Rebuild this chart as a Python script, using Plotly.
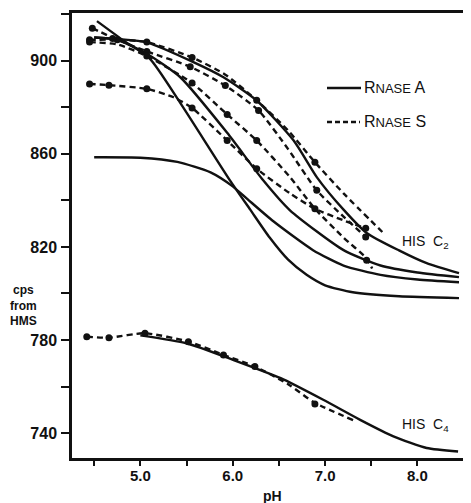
import plotly.graph_objects as go

# ---------------- data ----------------
# RNase A (solid) curves, HIS C2
a1_ph = [4.53, 4.82, 5.1, 5.43, 5.97, 6.19, 6.4, 6.6, 6.8, 7.0, 7.3, 7.8, 8.45]
a1_v  = [917, 908.6, 901, 882, 848.6, 836, 824, 814.5, 808, 803.5, 800.5, 798.8, 798]
a2_ph = [4.5, 5.0, 5.4, 5.76, 6.0, 6.16, 6.44, 6.87, 7.2, 7.6, 8.0, 8.45]
a2_v  = [858.5, 858.3, 856.5, 852, 846, 840.5, 831, 818.6, 812, 808, 806, 804.8]
a3_ph = [4.5, 4.75, 5.07, 5.43, 5.94, 6.33, 6.62, 7.2, 7.6, 8.0, 8.45]
a3_v  = [910, 909, 903, 893, 869, 848.6, 835.7, 818.6, 812, 809, 807]
a4_ph = [4.5, 4.75, 5.07, 5.58, 5.9, 6.26, 6.66, 6.91, 7.2, 7.45, 7.8, 8.1, 8.45]
a4_v  = [910, 909.3, 907.9, 899.3, 892.9, 882.9, 865.7, 850, 836, 826, 818.5, 813, 808.7]

# RNase S (dashed) curves, HIS C2
s1_ph = [4.45, 4.75, 5.07, 5.56, 5.92, 6.26, 6.6, 6.89, 7.2, 7.62]
s1_v  = [909, 909, 908, 901.4, 894, 883, 870, 856.4, 843, 826.4]
s1_dot_ph = [4.45, 4.75, 5.07, 5.56, 6.26, 6.89]
s1_dot_v  = [909, 909, 908, 901.4, 883, 856.4]
s2_ph = [4.48, 4.75, 5.07, 5.54, 5.92, 6.28, 6.6, 6.91, 7.2, 7.44]
s2_v  = [914, 909, 904, 897.4, 889.3, 878.6, 862, 844.3, 833, 824.3]
s2_dot_ph = [4.48, 4.7, 5.07, 5.54, 5.92, 6.28, 6.91, 7.44]
s2_dot_v  = [914, 909.5, 904, 897.4, 889.3, 878.6, 844.3, 824.3]
s3_ph = [4.45, 4.75, 5.07, 5.56, 5.94, 6.26, 6.62, 6.89, 7.2, 7.45, 7.51]
s3_v  = [908, 907, 902, 890.4, 876.9, 865.7, 850, 836.4, 824, 815, 810.7]
s3_dot_ph = [4.45, 5.07, 5.56, 5.94, 6.26, 7.45]
s3_dot_v  = [908, 902, 890.4, 876.9, 865.7, 814.3]
s4_ph = [4.45, 4.66, 5.07, 5.36, 5.56, 5.94, 6.26, 6.62, 6.89, 7.2, 7.44]
s4_v  = [890, 889.5, 887.9, 884.3, 879.7, 865.7, 853.6, 843, 836.4, 831.4, 828]
s4_dot_ph = [4.45, 4.66, 5.07, 5.56, 5.94, 6.26, 6.89, 7.44]
s4_dot_v  = [890, 889.5, 887.9, 879.7, 865.7, 853.6, 836.4, 828]

# HIS C4
c4a_ph = [5.0, 5.5, 6.01, 6.52, 6.98, 7.38, 7.74, 8.1, 8.44]
c4a_v  = [782, 778.6, 771.4, 763.6, 754.3, 745.7, 738.6, 733.6, 732.1]
c4s_ph = [4.42, 4.66, 5.05, 5.52, 5.9, 6.24, 6.6, 6.89, 7.31]
c4s_v  = [781.4, 781.0, 782.9, 779.3, 773.6, 768.6, 761, 753, 745.5]
c4s_dot_ph = [4.42, 4.66, 5.05, 5.52, 5.9, 6.24, 6.89]
c4s_dot_v  = [781.4, 781.0, 782.9, 779.3, 773.6, 768.6, 752.5]

x_ticks = [5.0, 6.0, 7.0, 8.0]
x_ticktext = ["5.0", "6.0", "7.0", "8.0"]
y_ticks = [740, 780, 820, 860, 900]
y_ticktext = ["740", "780", "820", "860", "900"]

# ---------------- figure ----------------
# the page puts the figure 8px in from the top-left corner
OFF = 8
W, H = 463, 495
ML, MR, MT, MB = 64, 0, 5, 45
INK = "#111111"
LW = 2.4

fig = go.Figure()

def solid(xs, ys):
    fig.add_trace(go.Scatter(x=xs, y=ys, mode="lines",
                             line=dict(color=INK, width=LW, shape="spline", smoothing=0.6),
                             hoverinfo="skip", showlegend=False))

def dashed(xs, ys, dx, dy):
    fig.add_trace(go.Scatter(x=xs, y=ys, mode="lines",
                             line=dict(color=INK, width=LW, shape="spline", smoothing=0.6,
                                       dash="6px,4px"),
                             hoverinfo="skip", showlegend=False))
    fig.add_trace(go.Scatter(x=dx, y=dy, mode="markers",
                             marker=dict(color=INK, size=7),
                             hoverinfo="skip", showlegend=False))

for xs, ys in [(a1_ph, a1_v), (a2_ph, a2_v), (a3_ph, a3_v), (a4_ph, a4_v), (c4a_ph, c4a_v)]:
    solid(xs, ys)

for xs, ys, dx, dy in [(s1_ph, s1_v, s1_dot_ph, s1_dot_v),
                       (s2_ph, s2_v, s2_dot_ph, s2_dot_v),
                       (s3_ph, s3_v, s3_dot_ph, s3_dot_v),
                       (s4_ph, s4_v, s4_dot_ph, s4_dot_v),
                       (c4s_ph, c4s_v, c4s_dot_ph, c4s_dot_v)]:
    dashed(xs, ys, dx, dy)

def px(x):
    return (x - OFF - ML) / (W - ML - MR)

def py(y):
    return (H - MB - (y - OFF)) / (H - MT - MB)

FONT = "Liberation Sans, Arial, sans-serif"

def note(text, x, y, size, xanchor="center"):
    return dict(text=text, x=px(x), y=py(y), xref="paper", yref="paper",
                xanchor=xanchor, yanchor="middle", showarrow=False, align="center",
                font=dict(family=FONT, size=size, color=INK))

annotations = [
    note("<b>cps<br>from<br>HMS</b>", 23, 305, 12),
    note("<b>pH</b>", 272, 496, 14),
    note("R<span style='font-size:13px'>NASE</span> A", 362, 88, 16, "left"),
    note("R<span style='font-size:13px'>NASE</span> S", 362, 122, 16, "left"),
    note("HIS  C<sub>2</sub>", 400, 242, 14, "left"),
    note("HIS  C<sub>4</sub>", 400, 425, 14, "left"),
]

shapes = [
    dict(type="line", xref="paper", yref="paper", x0=px(327), x1=px(361), y0=py(88), y1=py(88),
         line=dict(color=INK, width=LW)),
    dict(type="line", xref="paper", yref="paper", x0=px(327), x1=px(360), y0=py(122), y1=py(122),
         line=dict(color=INK, width=LW, dash="5px,3px")),
]

fig.update_layout(
    width=W, height=H,
    margin=dict(l=ML, r=MR, t=MT, b=MB, pad=0, autoexpand=False),
    paper_bgcolor="white", plot_bgcolor="white",
    showlegend=False,
    annotations=annotations, shapes=shapes,
    xaxis=dict(range=[4.26, 8.58], tickvals=x_ticks, ticktext=x_ticktext,
               showgrid=False, zeroline=False, showline=True, linecolor=INK, linewidth=2.5,
               mirror=True, ticks="outside", ticklen=5, tickwidth=2, tickcolor=INK,
               minor=dict(tick0=4.5, dtick=0.5, ticks="outside", ticklen=5, tickwidth=2,
                          tickcolor=INK, showgrid=False),
               ticklabelstandoff=-3,
               tickfont=dict(family=FONT, size=15, color=INK, weight="bold")),
    yaxis=dict(range=[729.3, 920.5], tickvals=y_ticks, ticktext=y_ticktext,
               showgrid=False, zeroline=False, showline=True, linecolor=INK, linewidth=2.5,
               ticks="outside", ticklen=8, tickwidth=2, tickcolor=INK, ticklabelstandoff=1,
               minor=dict(tick0=740, dtick=20, ticks="outside", ticklen=8, tickwidth=2,
                          tickcolor=INK, showgrid=False),
               tickfont=dict(family=FONT, size=16, color=INK, weight="bold")),
)

fig.write_html("out.html")
